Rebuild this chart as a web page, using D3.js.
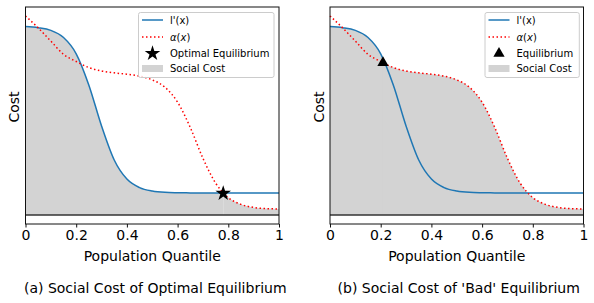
<!DOCTYPE html>
<html>
<head>
<meta charset="utf-8">
<script src="https://cdn.jsdelivr.net/npm/d3@7"></script>
<style>
  body { margin: 0; background: #fff; }
  svg { font-family: "DejaVu Sans", sans-serif; }
</style>
</head>
<body>
<div id="chart"></div>
<script>
// values
const xs =     [0, 0.05, 0.1, 0.15, 0.2, 0.25, 0.3, 0.35, 0.4, 0.45, 0.5, 0.55, 0.6, 0.65, 0.7, 0.75, 0.8, 0.85, 0.9, 0.95, 1];
const lPrime = [0.997, 0.991, 0.977, 0.939, 0.853, 0.687, 0.471, 0.291, 0.19, 0.145, 0.127, 0.12, 0.118, 0.117, 0.116, 0.116, 0.116, 0.116, 0.116, 0.116, 0.116];
const alpha =  [1.053, 0.99, 0.92, 0.85, 0.812, 0.78, 0.762, 0.752, 0.745, 0.735, 0.715, 0.676, 0.597, 0.463, 0.30, 0.169, 0.092, 0.056, 0.040, 0.034, 0.032];

const xTicks = [0, 0.2, 0.4, 0.6, 0.8, 1];
const xTickLabels = ["0", "0.2", "0.4", "0.6", "0.8", "1"];

const eqX = [0.78, 0.209];
const eqY = [0.117, 0.805];
const eqLabels = ["Optimal Equilibrium", "Equilibrium"];
const captions = ["(a) Social Cost of Optimal Equilibrium", "(b) Social Cost of 'Bad' Equilibrium"];

const W = 594, H = 303;
const panelLeft = [25.5, 330];
const panelW = 253.5;
const plotTop = 7, plotBottom = 224;

const svg = d3.select("#chart").append("svg")
    .attr("width", W)
    .attr("height", H);

const y = d3.scaleLinear().domain([-0.0476, 1.1005]).range([plotBottom, plotTop]);

const pts = (vals) => xs.map((x, i) => [x, vals[i]]);

panelLeft.forEach(function(left, p) {
  const x = d3.scaleLinear().domain([0, 1]).range([left, left + panelW]);
  const g = svg.append("g");

  const clipA = "clipL" + p, clipB = "clipR" + p;
  const defs = g.append("defs");
  defs.append("clipPath").attr("id", clipA).append("rect")
      .attr("x", x(0)).attr("y", plotTop).attr("width", x(eqX[p]) - x(0)).attr("height", plotBottom - plotTop);
  defs.append("clipPath").attr("id", clipB).append("rect")
      .attr("x", x(eqX[p])).attr("y", plotTop).attr("width", x(1) - x(eqX[p])).attr("height", plotBottom - plotTop);

  const area = d3.area().curve(d3.curveMonotoneX)
      .x(d => x(d[0])).y0(y(0)).y1(d => y(d[1]));
  const line = d3.line().curve(d3.curveMonotoneX)
      .x(d => x(d[0])).y(d => y(d[1]));

  // social cost: under l'(x) left of equilibrium, under alpha(x) right of it
  g.append("path").attr("d", area(pts(lPrime))).attr("fill", "#d3d3d3")
      .attr("clip-path", "url(#" + clipA + ")");
  g.append("path").attr("d", area(pts(alpha))).attr("fill", "#d3d3d3")
      .attr("clip-path", "url(#" + clipB + ")");

  // zero line
  g.append("line").attr("x1", x(0)).attr("x2", x(1)).attr("y1", y(0)).attr("y2", y(0))
      .attr("stroke", "#333").attr("stroke-width", 1.5);

  g.append("path").attr("d", line(pts(lPrime))).attr("fill", "none")
      .attr("stroke", "#1f77b4").attr("stroke-width", 1.5);
  g.append("path").attr("d", line(pts(alpha))).attr("fill", "none")
      .attr("stroke", "red").attr("stroke-width", 1.5).attr("stroke-dasharray", "1.5,2.5");

  const sym = p === 0 ? d3.symbol().type(d3.symbolStar).size(75) : d3.symbol().type(d3.symbolTriangle).size(55);
  g.append("path").attr("d", sym())
      .attr("transform", "translate(" + x(eqX[p]) + "," + (y(eqY[p]) + (p === 0 ? 0.5 : 0)) + ")")
      .attr("fill", "black");

  // frame
  g.append("rect").attr("x", x(0)).attr("y", plotTop).attr("width", panelW).attr("height", plotBottom - plotTop)
      .attr("fill", "none").attr("stroke", "#111").attr("stroke-width", 1);

  // x axis
  const axis = g.append("g").attr("transform", "translate(0," + plotBottom + ")")
      .call(d3.axisBottom(x).tickValues(xTicks).tickFormat((d, i) => xTickLabels[i]).tickSize(3.5).tickPadding(3));
  axis.select(".domain").remove();
  axis.selectAll("line").attr("stroke", "#111");
  axis.selectAll("text").attr("font-size", 14).attr("fill", "#000").attr("font-family", "DejaVu Sans");

  g.append("text").attr("x", x(0.5)).attr("y", 261).attr("text-anchor", "middle")
      .attr("font-size", 14).text("Population Quantile");
  g.append("text").attr("transform", "translate(" + (left - 6.5) + ",107) rotate(-90)")
      .attr("text-anchor", "middle").attr("font-size", 14).text("Cost");
  g.append("text").attr("x", x(0.5) + (p === 0 ? 3 : 2)).attr("y", 293).attr("text-anchor", "middle")
      .attr("font-size", 14).text(captions[p]);

  // legend
  const lx = p === 0 ? 138.5 : 485, lr = p === 0 ? 274 : 579.3;
  const leg = g.append("g");
  leg.append("rect").attr("x", lx).attr("y", 12.5).attr("width", lr - lx).attr("height", 65)
      .attr("rx", 2).attr("fill", "white").attr("fill-opacity", 0.8).attr("stroke", "#ccc");
  const sx = lx + 3.5, ex = lx + 24.5, tx = lx + 31.5;
  const rows = [20, 37, 53.5, 68.5];
  leg.append("line").attr("x1", sx).attr("x2", ex).attr("y1", rows[0]).attr("y2", rows[0])
      .attr("stroke", "#1f77b4").attr("stroke-width", 1.5);
  leg.append("line").attr("x1", sx).attr("x2", ex).attr("y1", rows[1]).attr("y2", rows[1])
      .attr("stroke", "red").attr("stroke-width", 1.5).attr("stroke-dasharray", "1.5,2.5");
  leg.append("path").attr("d", sym()).attr("transform", "translate(" + ((sx + ex) / 2) + "," + rows[2] + ")")
      .attr("fill", "black");
  leg.append("rect").attr("x", sx).attr("y", rows[3] - 3.5).attr("width", ex - sx).attr("height", 7)
      .attr("fill", "#d3d3d3");
  leg.append("text").attr("x", tx).attr("y", rows[0] + 3.5).attr("font-size", 10).text("l'(x)");
  const at = leg.append("text").attr("x", tx).attr("y", rows[1] + 3.5).attr("font-size", 10);
  at.append("tspan").attr("font-style", "italic").text("α");
  at.append("tspan").text("(");
  at.append("tspan").attr("font-style", "italic").text("x");
  at.append("tspan").text(")");
  leg.append("text").attr("x", tx).attr("y", rows[2] + 3.5).attr("font-size", 10).text(eqLabels[p]);
  leg.append("text").attr("x", tx).attr("y", rows[3] + 3.5).attr("font-size", 10).text("Social Cost");
});
</script>
</body>
</html>
